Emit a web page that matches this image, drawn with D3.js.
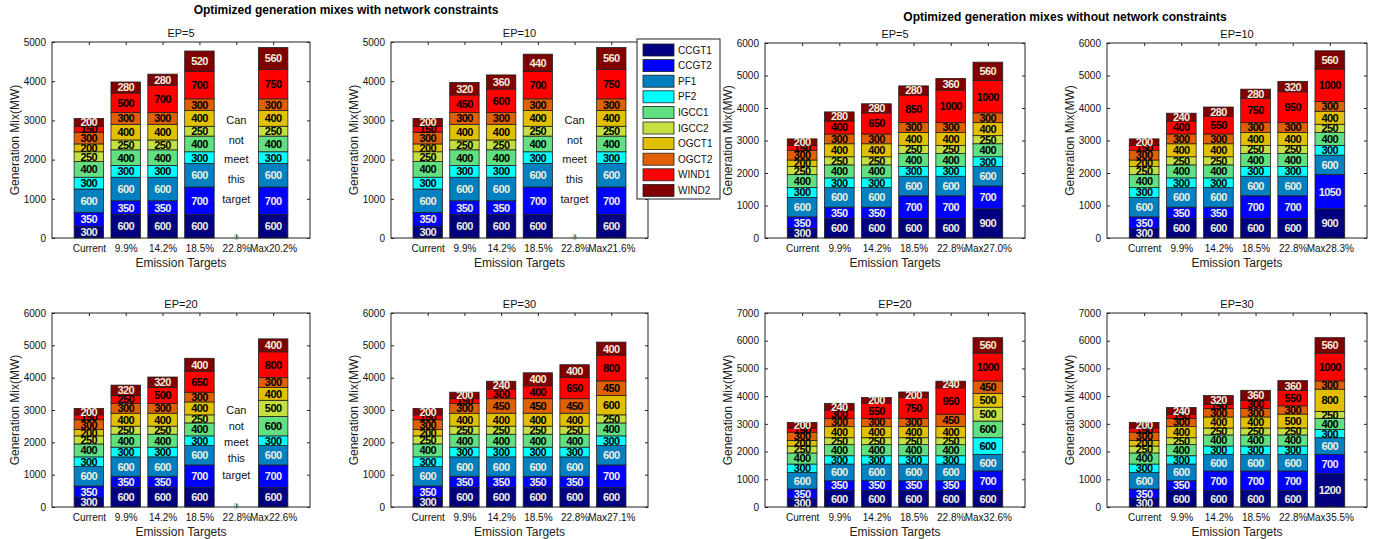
<!DOCTYPE html>
<html>
<head>
<meta charset="utf-8">
<script src="https://cdn.jsdelivr.net/npm/d3@7"></script>
<style>
  body { margin: 0; background: #fff; }
  svg { font-family: "Liberation Sans", Arial, sans-serif; }
</style>
</head>
<body>
<svg id="chart" width="1375" height="539"></svg>
<script>
// series (stack order, bottom to top)
var seriesNames = ["CCGT1", "CCGT2", "PF1", "PF2", "IGCC1", "IGCC2", "OGCT1", "OGCT2", "WIND1", "WIND2"];
var seriesColors = ["#000080", "#0000ff", "#0080c0", "#00ffff", "#60e080", "#c4e040", "#e0c000", "#e06000", "#ff0000", "#800000"];
var lightText = [true, true, true, false, false, false, false, false, false, true];

var current = [300, 350, 600, 300, 400, 250, 200, 300, 150, 200];

// with network constraints
var withEP5Targets = ["Current", "9.9%", "14.2%", "18.5%", "22.8%", "Max20.2%"];
var withEP5 = [current,
  [600, 350, 600, 300, 400, 250, 400, 300, 500, 280],
  [600, 350, 600, 300, 400, 250, 400, 300, 700, 280],
  [600, 700, 600, 300, 400, 250, 400, 300, 700, 520],
  null,
  [600, 700, 600, 300, 400, 250, 400, 300, 750, 560]];

var withEP10Targets = ["Current", "9.9%", "14.2%", "18.5%", "22.8%", "Max21.6%"];
var withEP10 = [current,
  [600, 350, 600, 300, 400, 250, 400, 300, 450, 320],
  [600, 350, 600, 300, 400, 250, 400, 300, 600, 360],
  [600, 700, 600, 300, 400, 250, 400, 300, 700, 440],
  null,
  [600, 700, 600, 300, 400, 250, 400, 300, 750, 560]];

var withEP20Targets = ["Current", "9.9%", "14.2%", "18.5%", "22.8%", "Max22.6%"];
var withEP20 = [current,
  [600, 350, 600, 300, 400, 250, 400, 300, 250, 320],
  [600, 350, 600, 300, 400, 250, 400, 300, 500, 320],
  [600, 700, 600, 300, 400, 250, 400, 300, 650, 400],
  null,
  [600, 700, 600, 300, 600, 500, 400, 300, 800, 400]];

var withEP30Targets = ["Current", "9.9%", "14.2%", "18.5%", "22.8%", "Max27.1%"];
var withEP30 = [current,
  [600, 350, 600, 300, 400, 250, 400, 300, 150, 200],
  [600, 350, 600, 300, 400, 250, 400, 450, 300, 240],
  [600, 350, 600, 300, 400, 250, 400, 450, 400, 400],
  [600, 350, 600, 300, 400, 250, 400, 450, 650, 400],
  [600, 700, 600, 300, 400, 250, 600, 450, 800, 400]];

// without network constraints
var noEP5Targets = ["Current", "9.9%", "14.2%", "18.5%", "22.8%", "Max27.0%"];
var noEP5 = [current,
  [600, 350, 600, 300, 400, 250, 400, 300, 400, 280],
  [600, 350, 600, 300, 400, 250, 400, 300, 650, 280],
  [600, 700, 600, 300, 400, 250, 400, 300, 850, 280],
  [600, 700, 600, 300, 400, 250, 400, 300, 1000, 360],
  [900, 700, 600, 300, 400, 250, 400, 300, 1000, 560]];

var noEP10Targets = ["Current", "9.9%", "14.2%", "18.5%", "22.8%", "Max28.3%"];
var noEP10 = [current,
  [600, 350, 600, 300, 400, 250, 400, 300, 400, 240],
  [600, 350, 600, 300, 400, 250, 400, 300, 550, 280],
  [600, 700, 600, 300, 400, 250, 400, 300, 750, 280],
  [600, 700, 600, 300, 400, 250, 400, 300, 950, 320],
  [900, 1050, 600, 300, 400, 250, 400, 300, 1000, 560]];

var noEP20Targets = ["Current", "9.9%", "14.2%", "18.5%", "22.8%", "Max32.6%"];
var noEP20 = [current,
  [600, 350, 600, 300, 400, 250, 400, 300, 300, 240],
  [600, 350, 600, 300, 400, 250, 400, 300, 550, 200],
  [600, 350, 600, 300, 400, 250, 400, 300, 750, 200],
  [600, 350, 600, 300, 400, 250, 400, 450, 950, 240],
  [600, 700, 600, 600, 600, 500, 500, 450, 1000, 560]];

var noEP30Targets = ["Current", "9.9%", "14.2%", "18.5%", "22.8%", "Max35.5%"];
var noEP30 = [current,
  [600, 350, 600, 300, 400, 250, 400, 300, 150, 240],
  [600, 700, 600, 300, 400, 250, 400, 300, 150, 320],
  [600, 700, 600, 300, 400, 250, 400, 300, 300, 360],
  [600, 700, 600, 300, 400, 250, 500, 300, 550, 360],
  [1200, 700, 600, 300, 400, 250, 800, 300, 1000, 560]];

var cannotText = ["Can", "not", "meet", "this", "target"];
var cannotLevels = [3000, 2500, 2000, 1500, 1000];

// panel layout
var panels = [
  { title: "EP=5",  targets: withEP5Targets,  values: withEP5,  ymax: 5000, left: 52,   right: 310,  top: 42,  bottom: 238 },
  { title: "EP=10", targets: withEP10Targets, values: withEP10, ymax: 5000, left: 391,  right: 648,  top: 42,  bottom: 238 },
  { title: "EP=5",  targets: noEP5Targets,    values: noEP5,    ymax: 6000, left: 765,  right: 1025, top: 43,  bottom: 238 },
  { title: "EP=10", targets: noEP10Targets,   values: noEP10,   ymax: 6000, left: 1107, right: 1367, top: 43,  bottom: 238 },
  { title: "EP=20", targets: withEP20Targets, values: withEP20, ymax: 6000, left: 52,   right: 310,  top: 313, bottom: 507 },
  { title: "EP=30", targets: withEP30Targets, values: withEP30, ymax: 6000, left: 391,  right: 648,  top: 313, bottom: 507 },
  { title: "EP=20", targets: noEP20Targets,   values: noEP20,   ymax: 7000, left: 765,  right: 1025, top: 313, bottom: 507 },
  { title: "EP=30", targets: noEP30Targets,   values: noEP30,   ymax: 7000, left: 1107, right: 1367, top: 313, bottom: 507 }
];

var svg = d3.select("#chart");

// figure titles
svg.append("text").attr("x", 346).attr("y", 14).attr("text-anchor", "middle")
  .attr("font-size", "12px").attr("font-weight", "bold")
  .text("Optimized generation mixes with network constraints");
svg.append("text").attr("x", 1065).attr("y", 21).attr("text-anchor", "middle")
  .attr("font-size", "12px").attr("font-weight", "bold")
  .text("Optimized generation mixes without network constraints");

panels.forEach(function (p) {
  var x = d3.scaleLinear().domain([0, 7]).range([p.left, p.right]);
  var y = d3.scaleLinear().domain([0, p.ymax]).range([p.bottom, p.top]);
  var barW = (x(1) - x(0)) * 0.8;
  var g = svg.append("g");

  // bars
  p.values.forEach(function (vals, i) {
    var cx = x(i + 1);
    if (!vals) {
      g.selectAll(null).data(cannotText).enter().append("text")
        .attr("x", cx)
        .attr("y", function (d, k) { return y(cannotLevels[k]); })
        .attr("dy", "0.35em")
        .attr("text-anchor", "middle")
        .attr("font-size", "11px")
        .attr("fill", "#111")
        .text(function (d) { return d; });
      g.append("text").attr("x", cx).attr("y", y(0)).attr("dy", "0.2em")
        .attr("text-anchor", "middle").attr("font-size", "9px").attr("fill", "#8cc88c").text("0");
      return;
    }
    var stack = [];
    var acc = 0;
    vals.forEach(function (v, s) { stack.push({ s: s, v: v, y0: acc, y1: acc + v }); acc += v; });

    g.selectAll(null).data(stack).enter().append("rect")
      .attr("x", cx - barW / 2)
      .attr("y", function (d) { return y(d.y1); })
      .attr("width", barW)
      .attr("height", function (d) { return y(d.y0) - y(d.y1); })
      .attr("fill", function (d) { return seriesColors[d.s]; })
      .attr("stroke", "#222")
      .attr("stroke-width", 0.8);

    g.selectAll(null).data(stack).enter().append("text")
      .attr("x", cx)
      .attr("y", function (d) { return y((d.y0 + d.y1) / 2); })
      .attr("dy", "0.36em")
      .attr("text-anchor", "middle")
      .attr("font-size", "11px")
      .attr("font-weight", "bold")
      .attr("letter-spacing", "-0.6px")
      .attr("fill", function (d) { return lightText[d.s] ? "#eeeedd" : "#000"; })
      .text(function (d) { return d.v; });
  });

  // axes box with inward ticks
  var yTicks = d3.range(0, p.ymax + 1, 1000);
  var xTicks = d3.range(1, 7);

  var yAxis = d3.axisLeft(y).tickValues(yTicks).tickSizeInner(-3).tickSizeOuter(0).tickPadding(6).tickFormat(d3.format("d"));
  var yAxisR = d3.axisRight(y).tickValues(yTicks).tickSizeInner(-3).tickSizeOuter(0).tickFormat("");
  var xAxis = d3.axisBottom(x).tickValues(xTicks).tickSizeInner(-3).tickSizeOuter(0).tickPadding(7)
    .tickFormat(function (d) { return p.targets[d - 1]; });
  var xAxisT = d3.axisTop(x).tickValues(xTicks).tickSizeInner(-3).tickSizeOuter(0).tickFormat("");

  [
    g.append("g").attr("transform", "translate(" + p.left + ",0)").call(yAxis),
    g.append("g").attr("transform", "translate(" + p.right + ",0)").call(yAxisR),
    g.append("g").attr("transform", "translate(0," + p.bottom + ")").call(xAxis),
    g.append("g").attr("transform", "translate(0," + p.top + ")").call(xAxisT)
  ].forEach(function (a) {
    a.select(".domain").remove();
    a.selectAll("line").attr("stroke", "#222");
    a.selectAll("text").attr("font-family", "Liberation Sans, Arial, sans-serif").attr("font-size", "10px").attr("fill", "#111");
  });

  g.append("rect")
    .attr("x", p.left).attr("y", p.top)
    .attr("width", p.right - p.left).attr("height", p.bottom - p.top)
    .attr("fill", "none").attr("stroke", "#222").attr("stroke-width", 1);

  // titles and labels
  g.append("text").attr("x", (p.left + p.right) / 2).attr("y", p.top - 5)
    .attr("text-anchor", "middle").attr("font-size", "11px").attr("fill", "#111").text(p.title);
  g.append("text").attr("x", (p.left + p.right) / 2).attr("y", p.bottom + 29)
    .attr("text-anchor", "middle").attr("font-size", "12px").attr("fill", "#222").text("Emission Targets");
  g.append("text")
    .attr("transform", "translate(" + (p.left - 33) + "," + ((p.top + p.bottom) / 2) + ") rotate(-90)")
    .attr("text-anchor", "middle").attr("font-size", "12px").attr("fill", "#222").text("Generation Mix(MW)");
});

// legend
var legend = svg.append("g").attr("transform", "translate(637,39)");
legend.append("rect").attr("width", 83).attr("height", 160)
  .attr("fill", "#fff").attr("stroke", "#222").attr("stroke-width", 1);
var items = legend.selectAll("g.item").data(seriesNames).enter().append("g")
  .attr("class", "item")
  .attr("transform", function (d, i) { return "translate(6," + (11 + i * 15.6) + ")"; });
items.append("rect").attr("x", 0).attr("y", -6).attr("width", 31).attr("height", 12)
  .attr("fill", function (d, i) { return seriesColors[i]; })
  .attr("stroke", "#222").attr("stroke-width", 0.8);
items.append("text").attr("x", 35).attr("dy", "0.35em").attr("font-size", "10px").attr("fill", "#111")
  .text(function (d) { return d; });
</script>
</body>
</html>
